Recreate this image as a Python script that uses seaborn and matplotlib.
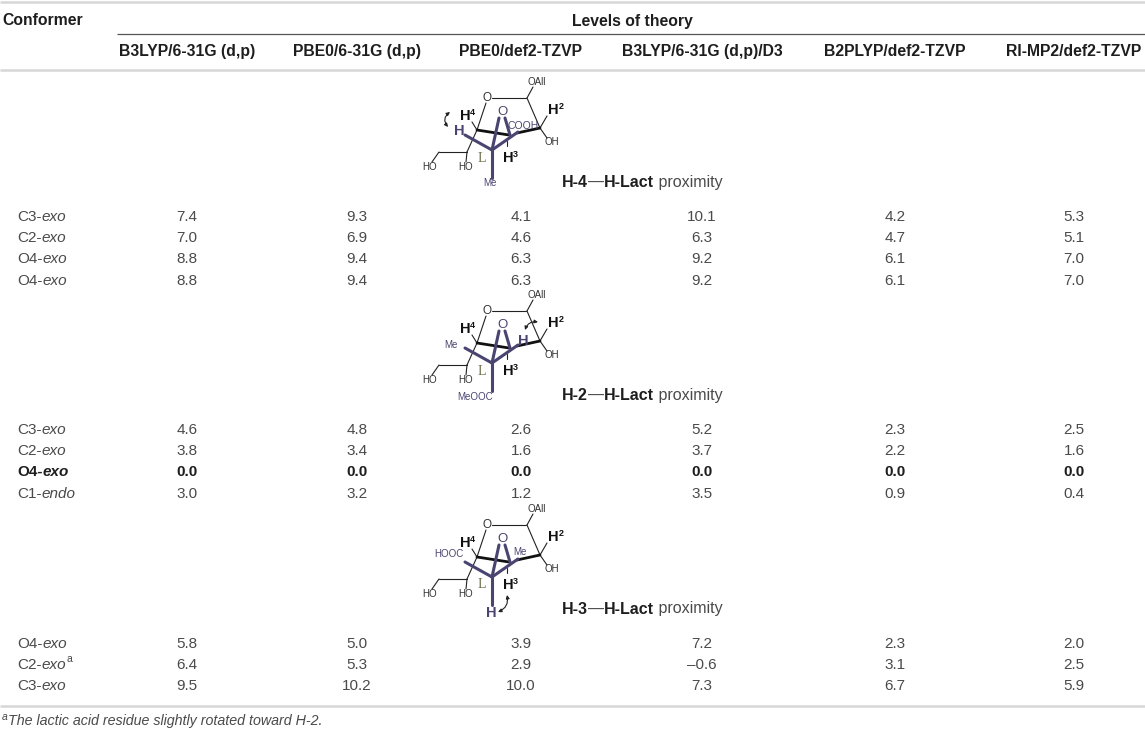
import numpy as np
import pandas as pd
import seaborn as sns
import matplotlib.pyplot as plt

# table content
methods = ["B3LYP/6-31G (d,p)", "PBE0/6-31G (d,p)", "PBE0/def2-TZVP",
           "B3LYP/6-31G (d,p)/D3", "B2PLYP/def2-TZVP", "RI-MP2/def2-TZVP"]

h4_conformers = ["C3-exo", "C2-exo", "O4-exo", "O4-exo"]
h4_values = [[7.4, 9.3, 4.1, 10.1, 4.2, 5.3],
             [7.0, 6.9, 4.6, 6.3, 4.7, 5.1],
             [8.8, 9.4, 6.3, 9.2, 6.1, 7.0],
             [8.8, 9.4, 6.3, 9.2, 6.1, 7.0]]

h2_conformers = ["C3-exo", "C2-exo", "O4-exo", "C1-endo"]
h2_values = [[4.6, 4.8, 2.6, 5.2, 2.3, 2.5],
             [3.8, 3.4, 1.6, 3.7, 2.2, 1.6],
             [0.0, 0.0, 0.0, 0.0, 0.0, 0.0],
             [3.0, 3.2, 1.2, 3.5, 0.9, 0.4]]

h3_conformers = ["O4-exo", "C2-exo", "C3-exo"]
h3_marks = ["", "a", ""]
h3_values = [[5.8, 5.0, 3.9, 7.2, 2.3, 2.0],
             [6.4, 5.3, 2.9, -0.6, 3.1, 2.5],
             [9.5, 10.2, 10.0, 7.3, 6.7, 5.9]]

proximity = ["H-4", "H-2", "H-3"]
footnote = "The lactic acid residue slightly rotated toward H-2."

blocks = [
    pd.DataFrame(h4_values, index=h4_conformers, columns=methods),
    pd.DataFrame(h2_values, index=h2_conformers, columns=methods),
    pd.DataFrame(h3_values, index=h3_conformers, columns=methods),
]
marks = [[""] * 4, [""] * 4, h3_marks]

sns.set_theme(style="white")
plt.rcParams['font.family'] = ['Liberation Sans', 'DejaVu Sans']

TXT = '#4a4a4a'
HEAD = '#1e1e1e'
RULE = '#d6d6d6'
PURPLE = '#4a4570'

fig = plt.figure(figsize=(11.45, 7.35), dpi=100)
ax = fig.add_axes([0, 0, 1, 1])
ax.set_xlim(0, 1145)
ax.set_ylim(735, 0)
ax.axis('off')

col_x = [187, 357, 521, 702, 895, 1074]
block_dy = [0, 213, 427]
row_y0 = 217
row_h = 21.2


def chain(x, y, parts, ha='left'):
    """write several text pieces one after the other"""
    s, kw = parts[0]
    t = ax.text(x, y, s, ha=ha, va='center', **kw)
    for s, kw in parts[1:]:
        kw = dict(kw)
        yfrac = kw.pop('yfrac', 0)
        t = ax.annotate(s, xy=(1, yfrac), xycoords=t, ha='left', va='bottom', **kw)
    return t


# rules
ax.plot([0, 1145], [1.5, 1.5], color=RULE, lw=1.8, solid_capstyle='butt')
ax.plot([117, 1145], [33.5, 33.5], color='#555555', lw=0.9, solid_capstyle='butt')
ax.plot([0, 1145], [69.5, 69.5], color=RULE, lw=1.8, solid_capstyle='butt')
ax.plot([0, 1145], [705.5, 705.5], color=RULE, lw=1.8, solid_capstyle='butt')

# header
ax.text(2, 20, "Conformer", ha='left', va='center', fontsize=11.3,
        fontweight='bold', color=HEAD)
ax.text(632, 21, "Levels of theory", ha='center', va='center', fontsize=11.3,
        fontweight='bold', color=HEAD)
for x, m in zip(col_x, methods):
    ax.text(x, 51, m, ha='center', va='center', fontsize=11.3,
            fontweight='bold', color=HEAD)


def draw_structure(dy, variant):
    ox, oy = 487, 98 + dy

    def P(p):
        return ox + p[0], oy + p[1]

    def seg(a, b, **kw):
        (x1, y1), (x2, y2) = P(a), P(b)
        ax.plot([x1, x2], [y1, y2], solid_capstyle='round', **kw)

    def lab(p, s, size=7, color='#333333', **kw):
        x, y = P(p)
        ax.text(x, y, s, fontsize=size, color=color, ha='center', va='center', **kw)

    def hlab(p, n, color='#111111'):
        t = chain(P(p)[0], P(p)[1], [("H", dict(fontsize=10.5, fontweight='bold', color=color))],
                  ha='center')
        if n:
            ax.annotate(n, xy=(1, 0.45), xycoords=t, ha='left', va='bottom',
                        fontsize=6.5, fontweight='bold', color=color)

    thin = dict(color='#222222', lw=0.8)
    # pyranose ring and side chain
    seg((5, 0), (39, 0), **thin)
    seg((40, 0), (53, 30), **thin)
    seg((40, 0), (46, -11), **thin)
    seg((-1, 5), (-10, 32), **thin)
    seg((53, 30), (60, 18), **thin)
    seg((53, 30), (60, 40), **thin)
    seg((-10, 32), (-15, 24), **thin)
    seg((-10, 32), (-20, 54), **thin)
    seg((-20, 54), (-21, 64), **thin)
    seg((-20, 54), (-35, 54), **thin)
    seg((-35, 54), (-48, 54), **thin)
    seg((-48, 54), (-55, 64), **thin)
    seg((20, 43), (20, 48), **thin)
    # bold wedges
    seg((-10, 32), (22, 37), color='#111111', lw=2.0)
    seg((30, 35), (53, 30), color='#111111', lw=2.0)
    # lactyl bridge
    pur = dict(color=PURPLE, lw=2.2)
    seg((5, 52), (-22, 37), **pur)
    seg((5, 52), (31, 34), **pur)
    seg((5, 52), (5, 80), **pur)
    seg((12, 20), (5, 52), **pur)
    seg((18, 20), (23, 37), **pur)

    lab((0, 0), "O", size=8.5)
    lab((15, 14), "O", size=9.5, color=PURPLE)
    lab((50, -16), "OAll", size=7)
    lab((65, 44), "OH", size=7)
    lab((-57, 69), "HO", size=7)
    lab((-21, 69), "HO", size=7)
    lab((-5, 60), "L", size=10, color='#6e6e4c', family='Liberation Serif')
    hlab((66, 12), "2")
    hlab((-22, 18), "4")
    hlab((21, 60), "3")

    if variant == 0:
        hlab((-28, 33), "", color=PURPLE)
        lab((36, 28), "COOH", size=7.5, color=PURPLE)
        lab((3, 85), "Me", size=7, color=PURPLE)
        a, b = P((-37, 14)), P((-39, 29))
        ax.annotate("", xy=b, xytext=a, arrowprops=dict(
            arrowstyle='<|-|>', color='#222222', lw=0.8, mutation_scale=5,
            connectionstyle='arc3,rad=0.5', shrinkA=0, shrinkB=0))
    elif variant == 1:
        lab((-36, 34), "Me", size=7, color=PURPLE)
        hlab((36, 30), "", color=PURPLE)
        lab((-12, 86), "MeOOC", size=7, color=PURPLE)
        a, b = P((38, 19)), P((51, 11))
        ax.annotate("", xy=b, xytext=a, arrowprops=dict(
            arrowstyle='<|-|>', color='#222222', lw=0.8, mutation_scale=5,
            connectionstyle='arc3,rad=-0.4', shrinkA=0, shrinkB=0))
    else:
        lab((-38, 29), "HOOC", size=7, color=PURPLE)
        lab((33, 27), "Me", size=7, color=PURPLE)
        hlab((4, 88), "", color=PURPLE)
        a, b = P((20, 70)), P((11, 87))
        ax.annotate("", xy=b, xytext=a, arrowprops=dict(
            arrowstyle='<|-|>', color='#222222', lw=0.8, mutation_scale=5,
            connectionstyle='arc3,rad=-0.4', shrinkA=0, shrinkB=0))


for b, (df, mk, prox) in enumerate(zip(blocks, marks, proximity)):
    dy = block_dy[b]
    draw_structure(dy, b)
    # caption under the structure
    bold = dict(fontsize=11.5, fontweight='bold', color=HEAD)
    light = dict(fontsize=11.5, color=TXT)
    chain(562, 182 + dy, [(prox, bold), ("\u2014", light),
                          ("H-Lact", bold), (" proximity", light)])

    for i, (conf, row) in enumerate(df.iterrows()):
        y = row_y0 + dy + i * row_h
        is_ref = bool((row == 0).all())
        w = 'bold' if is_ref else 'normal'
        col = HEAD if is_ref else TXT
        pre, post = conf.split('-')
        parts = [(pre + "-", dict(fontsize=11, fontweight=w, color=col)),
                 (post, dict(fontsize=11, fontweight=w, style='italic', color=col))]
        if mk[i]:
            parts.append((mk[i], dict(fontsize=7.5, color=col, yfrac=0.6)))
        chain(17, y, parts)
        for x, v in zip(col_x, row.values):
            s = f"{v:.1f}".replace("-", "\u2013")
            ax.text(x, y, s, ha='center', va='center', fontsize=11,
                    fontweight=w, color=col)

# footnote
ax.text(2, 717, "a", ha='left', va='center', fontsize=7.5, style='italic', color=TXT)
ax.text(7.5, 721, footnote, ha='left', va='center', fontsize=10.3,
        style='italic', color=TXT)

fig.savefig("out.png", dpi=100)
